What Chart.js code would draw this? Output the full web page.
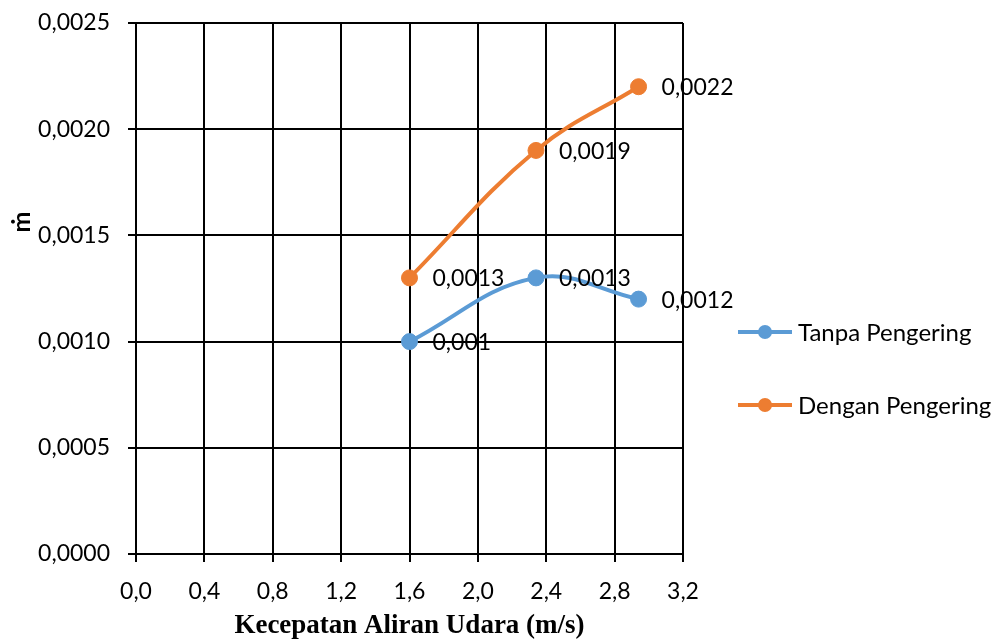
<!DOCTYPE html>
<html>
<head>
<meta charset="utf-8">
<script src="https://cdn.jsdelivr.net/npm/chart.js@4.4.1/dist/chart.umd.min.js"></script>
<style>
  html, body { margin: 0; padding: 0; background: #ffffff; }
  #wrap { width: 995px; height: 642px; }
</style>
</head>
<body>
<div id="wrap"><canvas id="c" width="995" height="642"></canvas></div>
<script>
// Air flow speed (m/s) and mass flow rate for the two drying setups
const speeds = [1.6, 2.34, 2.94];
const tanpaPengering = [0.0010, 0.0013, 0.0012];
const denganPengering = [0.0013, 0.0019, 0.0022];
const seriesNames = ['Tanpa Pengering', 'Dengan Pengering'];
const seriesColors = ['#5B9BD5', '#ED7D31'];
const xTicks = [0, 0.4, 0.8, 1.2, 1.6, 2.0, 2.4, 2.8, 3.2];
const yTicks = [0, 0.0005, 0.0010, 0.0015, 0.0020, 0.0025];
const xTitle = 'Kecepatan Aliran Udara (m/s)';
const yTitle = 'ṁ';

const FONT = 'Lato, "Open Sans", sans-serif';
const comma = v => String(v).replace('.', ',');

const toPoints = ys => speeds.map((x, i) => ({ x: x, y: ys[i] }));

// value labels to the right of each marker
const valueLabels = {
  id: 'valueLabels',
  afterDatasetsDraw(chart) {
    const ctx = chart.ctx;
    ctx.save();
    ctx.font = '23px ' + FONT;
    ctx.fillStyle = '#000';
    ctx.textAlign = 'left';
    ctx.textBaseline = 'middle';
    chart.data.datasets.forEach((ds, di) => {
      chart.getDatasetMeta(di).data.forEach((pt, i) => {
        ctx.fillText(comma(ds.data[i].y), pt.x + 23, pt.y + 1);
      });
    });
    ctx.restore();
  }
};

// rotated y-axis title
const yAxisTitle = {
  id: 'yAxisTitle',
  afterDraw(chart) {
    const ctx = chart.ctx;
    ctx.save();
    ctx.translate(22, 222);
    ctx.rotate(-Math.PI / 2);
    ctx.font = 'bold 25px ' + FONT;
    ctx.fillStyle = '#000';
    ctx.textAlign = 'center';
    ctx.textBaseline = 'middle';
    ctx.fillText(yTitle, 0, 0);
    ctx.restore();
  }
};

// legend: line with a dot, followed by the series name
const sideLegend = {
  id: 'sideLegend',
  afterDraw(chart) {
    const ctx = chart.ctx;
    const x0 = chart.chartArea.right + 55;
    ctx.save();
    ctx.font = '24px ' + FONT;
    ctx.textAlign = 'left';
    ctx.textBaseline = 'middle';
    chart.data.datasets.forEach((ds, i) => {
      const y = 332 + i * 73;
      ctx.strokeStyle = ds.borderColor;
      ctx.lineWidth = 4;
      ctx.beginPath();
      ctx.moveTo(x0, y);
      ctx.lineTo(x0 + 54, y);
      ctx.stroke();
      ctx.fillStyle = ds.borderColor;
      ctx.beginPath();
      ctx.arc(x0 + 27, y, 7, 0, Math.PI * 2);
      ctx.fill();
      ctx.fillStyle = '#000';
      ctx.fillText(ds.label, x0 + 60, y + 1);
    });
    ctx.restore();
  }
};

const makeSeries = (i, ys) => ({
  label: seriesNames[i],
  data: toPoints(ys),
  borderColor: seriesColors[i],
  backgroundColor: seriesColors[i],
  pointBackgroundColor: seriesColors[i],
  pointBorderColor: seriesColors[i],
  pointBorderWidth: 1,
  pointRadius: 8,
  borderWidth: 4,
  tension: 0.4,
  fill: false
});

new Chart(document.getElementById('c'), {
  type: 'line',
  data: {
    datasets: [makeSeries(0, tanpaPengering), makeSeries(1, denganPengering)]
  },
  options: {
    responsive: false,
    animation: false,
    devicePixelRatio: 1,
    layout: { padding: { left: 0, right: 312, top: 23, bottom: 0 } },
    plugins: {
      legend: { display: false },
      tooltip: { enabled: false }
    },
    scales: {
      x: {
        type: 'linear',
        min: 0,
        max: 3.2,
        afterBuildTicks: s => { s.ticks = xTicks.map(v => ({ value: v })); },
        afterFit: s => { s.height = 88; },
        ticks: {
          color: '#000',
          font: { family: FONT, size: 23 },
          padding: 16,
          maxRotation: 0,
          callback: v => v.toFixed(1).replace('.', ',')
        },
        grid: { color: '#000', lineWidth: 2, tickLength: 8, drawTicks: true },
        border: { color: '#000', width: 2 },
        title: {
          display: true,
          text: xTitle,
          color: '#000',
          font: { family: '"Liberation Serif", "Times New Roman", serif', size: 27, weight: 'bold' },
          padding: { top: 0, bottom: 0 }
        }
      },
      y: {
        type: 'linear',
        min: 0,
        max: 0.0025,
        afterBuildTicks: s => { s.ticks = yTicks.map(v => ({ value: v })); },
        afterFit: s => { s.width = 136; s.paddingTop = 0; s.paddingBottom = 0; },
        ticks: {
          color: '#000',
          font: { family: FONT, size: 23 },
          padding: 18,
          callback: v => v.toFixed(4).replace('.', ',')
        },
        grid: { color: '#000', lineWidth: 2, tickLength: 8, drawTicks: true },
        border: { color: '#000', width: 2 }
      }
    }
  },
  plugins: [valueLabels, yAxisTitle, sideLegend]
});
</script>
</body>
</html>
